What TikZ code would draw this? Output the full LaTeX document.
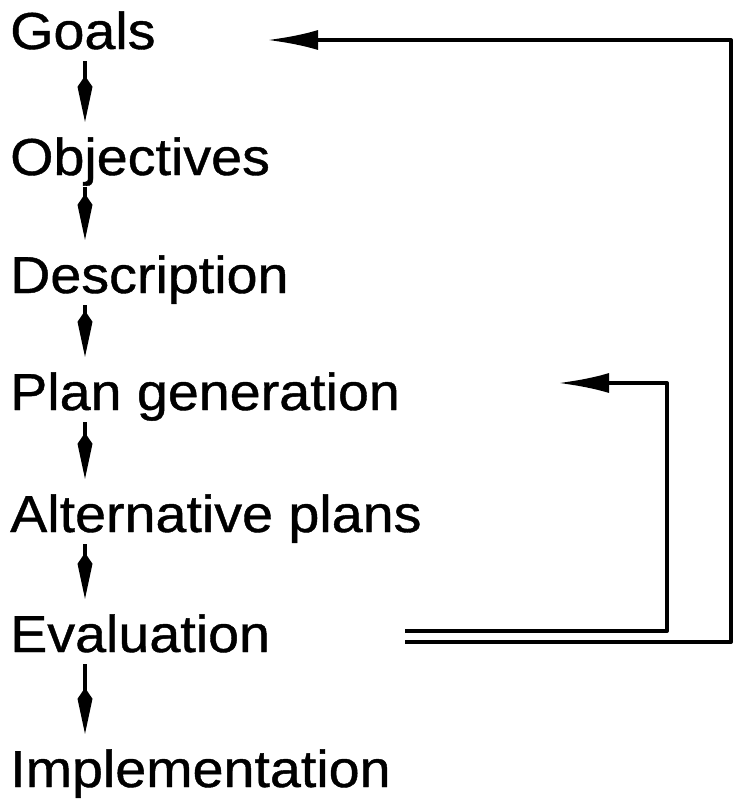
\documentclass[tikz,border=0pt]{standalone}
\usepackage{fontspec}
\setmainfont{Liberation Sans}[FakeStretch=1.07,FakeBold=0.8]
\usetikzlibrary{arrows.meta}

\begin{document}
\begin{tikzpicture}[x=1pt,y=-1pt,
  step label/.style={anchor=base west,inner sep=0pt,text height=38pt,text depth=11pt,
    font=\fontsize{52pt}{60pt}\selectfont},
  down link/.style={line width=3.5pt,
    -{Kite[length=46pt,width=15pt,inset=11pt]},shorten <=1pt,shorten >=15pt},
  back link/.style={line width=4pt,line join=round,
    -{Latex[length=51pt,width=20pt]}}
]
% page frame
\useasboundingbox (0,0) rectangle (734,801);

% the seven stages of the process
\node[step label] (goals) at (10,49)  {Goals};
\node[step label] (obj)   at (10,175) {Objectives};
\node[step label] (desc)  at (10,293) {Description};
\node[step label] (plan)  at (10,410) {Plan generation};
\node[step label] (alt)   at (10,532) {Alternative plans};
\node[step label] (eval)  at (10,652) {Evaluation};
\node[step label] (impl)  at (10,787) {Implementation};

% vertical spine of the chain
\coordinate (spine) at (85,0);
\draw[down link] (goals.south -| spine) -- (obj.north -| spine);
\draw[down link] (obj.south -| spine)   -- (desc.north -| spine);
\draw[down link] (desc.south -| spine)  -- (plan.north -| spine);
\draw[down link] (plan.south -| spine)  -- (alt.north -| spine);
\draw[down link] (alt.south -| spine)   -- (eval.north -| spine);
\draw[down link] (eval.south -| spine)  -- (impl.north -| spine);

% feedback loops leaving the evaluation stage
\coordinate (evInner) at (405,631);
\coordinate (evOuter) at (405,642);
\coordinate (innerTurn) at (667,383);
\coordinate (outerTurn) at (731,40);
\coordinate (planTip) at (558,383);
\coordinate (goalsTip) at (267,40);

\draw[back link] (evInner) -| (innerTurn) -- (planTip);
\draw[back link] (evOuter) -| (outerTurn) -- (goalsTip);
\end{tikzpicture}
\end{document}
